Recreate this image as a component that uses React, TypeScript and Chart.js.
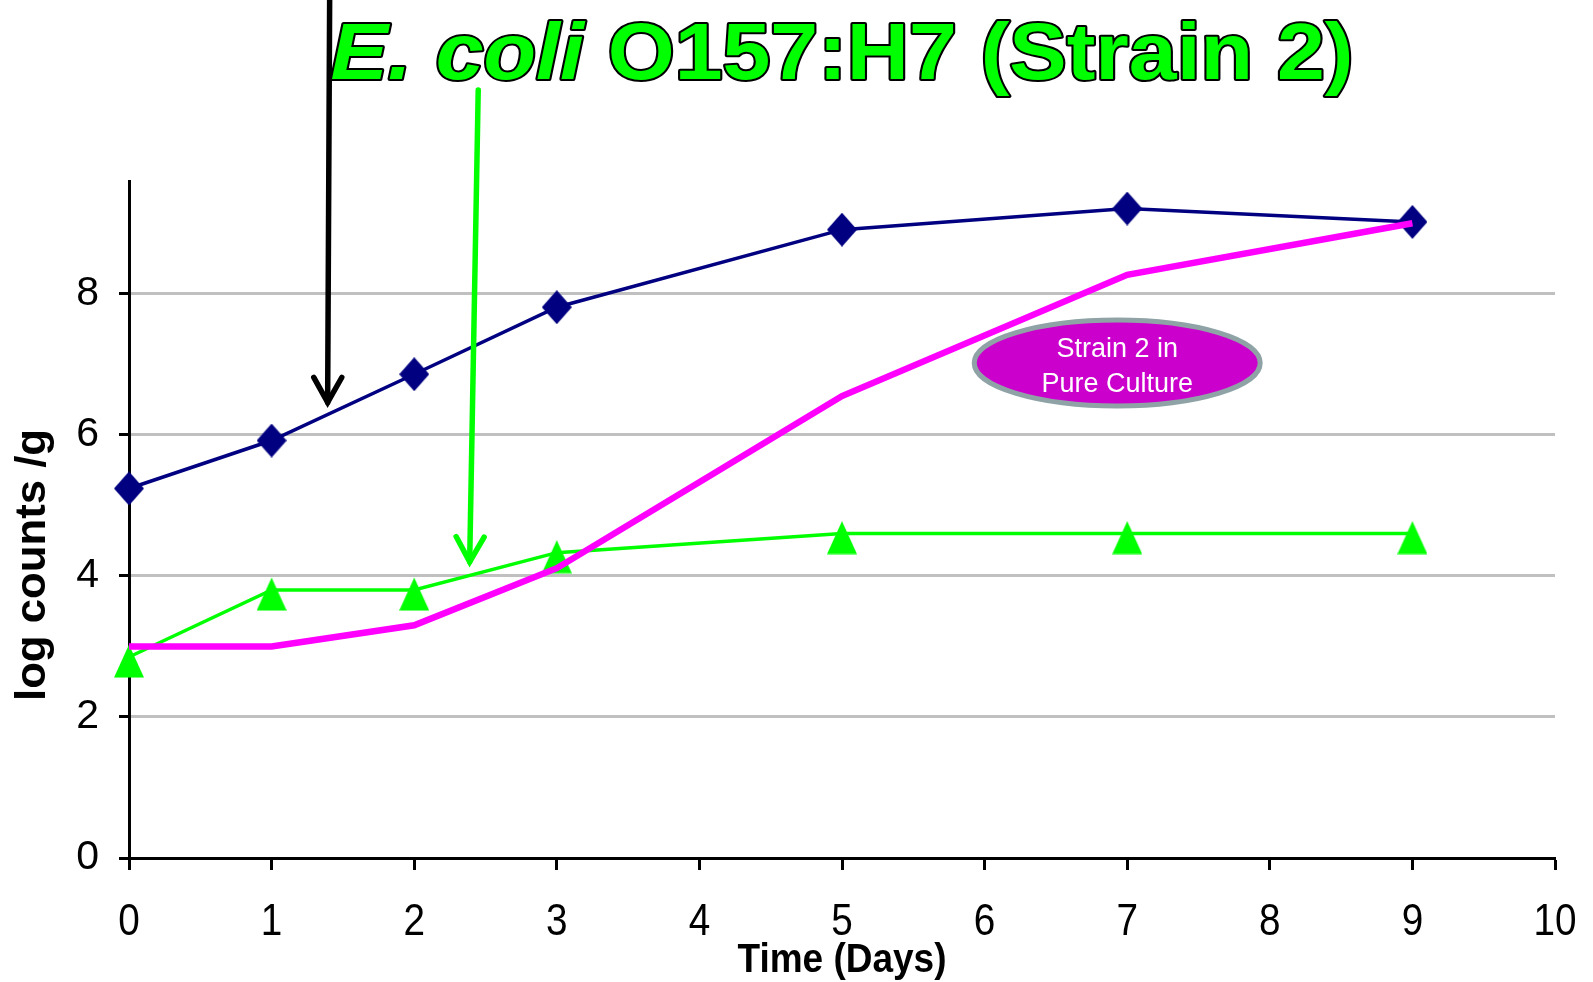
import React, { useEffect, useRef } from "react";
import { Chart, registerables } from "chart.js";

Chart.register(...registerables);

// Sampling days and log counts per series
const days = [0, 1, 2, 3, 5, 7, 9];
const diamondCounts = [5.24, 5.92, 6.86, 7.81, 8.91, 9.21, 9.02];
const triangleCounts = [2.85, 3.8, 3.8, 4.33, 4.6, 4.6, 4.6];
const pureCultureCounts = [3.0, 3.0, 3.3, 4.11, 6.55, 8.27, 9.0];

// Axis ticks
const xTickValues = [0, 1, 2, 3, 4, 5, 6, 7, 8, 9, 10];
const yTickValues = [0, 2, 4, 6, 8];
const xMin = 0;
const xMax = 10;
const yMin = 0;
const yMax = 9.6;

// Texts
const titleItalic = "E. coli";
const titleRest = " O157:H7 (Strain 2)";
const xTitle = "Time (Days)";
const yTitle = "log counts /g";
const calloutLines = ["Strain 2 in", "Pure Culture"];

// Annotation anchors in data units: [x, y]
const calloutCenter = [6.93, 7.02];
const blackArrow = [
  [1.407, 12.16],
  [1.393, 6.46],
];
const greenArrow = [
  [2.449, 10.89],
  [2.389, 4.2],
];

const FONT = '"Liberation Sans", Arial, sans-serif';
const NAVY = "#000080";
const GREEN = "#00ff00";
const MAGENTA = "#ff00ff";

function makeDiamond(): HTMLCanvasElement {
  const c = document.createElement("canvas");
  c.width = 30;
  c.height = 34;
  const g = c.getContext("2d")!;
  g.fillStyle = NAVY;
  g.beginPath();
  g.moveTo(15, 0);
  g.lineTo(30, 17);
  g.lineTo(15, 34);
  g.lineTo(0, 17);
  g.closePath();
  g.fill();
  return c;
}

function makeTriangle(): HTMLCanvasElement {
  const c = document.createElement("canvas");
  c.width = 30;
  c.height = 42;
  const g = c.getContext("2d")!;
  g.fillStyle = GREEN;
  g.beginPath();
  g.moveTo(15, 8.5);
  g.lineTo(30, 41.5);
  g.lineTo(0, 41.5);
  g.closePath();
  g.fill();
  return c;
}

function drawArrow(
  ctx: CanvasRenderingContext2D,
  x0: number,
  y0: number,
  x1: number,
  y1: number,
  color: string
) {
  const dx = x1 - x0;
  const dy = y1 - y0;
  const len = Math.hypot(dx, dy);
  const ux = dx / len;
  const uy = dy / len;
  const nx = -uy;
  const ny = ux;
  const back = 25;
  const half = 14;
  ctx.save();
  ctx.strokeStyle = color;
  ctx.lineWidth = 5.5;
  ctx.lineCap = "round";
  ctx.lineJoin = "miter";
  ctx.beginPath();
  ctx.moveTo(x0, y0);
  ctx.lineTo(x1, y1);
  ctx.stroke();
  ctx.beginPath();
  ctx.moveTo(x1 - ux * back + nx * half, y1 - uy * back + ny * half);
  ctx.lineTo(x1, y1);
  ctx.lineTo(x1 - ux * back - nx * half, y1 - uy * back - ny * half);
  ctx.stroke();
  ctx.restore();
}

const decorations = {
  id: "decorations",
  afterDatasetsDraw(chart: any) {
    const { ctx, scales } = chart;
    const xs = scales.x;
    const ys = scales.y;
    const px = (v: number) => xs.getPixelForValue(v);
    const py = (v: number) => ys.getPixelForValue(v);

    drawArrow(
      ctx,
      px(blackArrow[0][0]),
      py(blackArrow[0][1]),
      px(blackArrow[1][0]),
      py(blackArrow[1][1]),
      "#000000"
    );
    drawArrow(
      ctx,
      px(greenArrow[0][0]),
      py(greenArrow[0][1]),
      px(greenArrow[1][0]),
      py(greenArrow[1][1]),
      GREEN
    );

    // callout bubble
    const cx = px(calloutCenter[0]);
    const cy = py(calloutCenter[1]);
    ctx.save();
    ctx.beginPath();
    ctx.ellipse(cx, cy, 143, 43, 0, 0, Math.PI * 2);
    ctx.fillStyle = "#cc00cc";
    ctx.fill();
    ctx.lineWidth = 5;
    ctx.strokeStyle = "#8fa3a6";
    ctx.stroke();
    ctx.fillStyle = "#ffffff";
    ctx.font = `27px ${FONT}`;
    ctx.textAlign = "center";
    ctx.textBaseline = "alphabetic";
    ctx.fillText(calloutLines[0], cx, cy - 6);
    ctx.fillText(calloutLines[1], cx, cy + 29);
    ctx.restore();
  },
  afterDraw(chart: any) {
    const { ctx, chartArea, scales } = chart;
    const midX = (chartArea.left + chartArea.right) / 2;

    // x tick labels in a tall, narrow face
    ctx.save();
    ctx.font = `45px ${FONT}`;
    ctx.fillStyle = "#000000";
    ctx.textAlign = "center";
    ctx.textBaseline = "alphabetic";
    for (const v of xTickValues) {
      const x = scales.x.getPixelForValue(v);
      ctx.save();
      ctx.translate(x, 935);
      ctx.scale(0.86, 1);
      ctx.fillText(String(v), 0, 0);
      ctx.restore();
    }
    ctx.restore();

    // main title: italic species name + bold strain, green with black outline
    ctx.save();
    const italicFont = `italic bold 80px ${FONT}`;
    const boldFont = `bold 80px ${FONT}`;
    ctx.font = italicFont;
    const w1 = ctx.measureText(titleItalic).width;
    ctx.font = boldFont;
    const w2 = ctx.measureText(titleRest).width;
    const targetW = 1023;
    const sx = targetW / (w1 + w2);
    ctx.translate(midX - targetW / 2, 79);
    ctx.scale(sx, 1);
    ctx.textBaseline = "alphabetic";
    ctx.textAlign = "left";
    ctx.lineJoin = "round";
    ctx.lineWidth = 4;
    ctx.strokeStyle = "#000000";
    ctx.fillStyle = GREEN;
    ctx.font = italicFont;
    ctx.strokeText(titleItalic, 0, 0);
    ctx.fillText(titleItalic, 0, 0);
    ctx.font = boldFont;
    ctx.strokeText(titleRest, w1, 0);
    ctx.fillText(titleRest, w1, 0);
    ctx.restore();

    // x axis title
    ctx.save();
    ctx.font = `bold 40px ${FONT}`;
    const wx = ctx.measureText(xTitle).width;
    ctx.translate(842, 972);
    ctx.scale(209 / wx, 1);
    ctx.fillStyle = "#000000";
    ctx.textAlign = "center";
    ctx.textBaseline = "alphabetic";
    ctx.fillText(xTitle, 0, 0);
    ctx.restore();

    // y axis title
    ctx.save();
    ctx.font = `bold 42px ${FONT}`;
    const wy = ctx.measureText(yTitle).width;
    ctx.translate(45, 565);
    ctx.rotate(-Math.PI / 2);
    ctx.scale(272 / wy, 1);
    ctx.fillStyle = "#000000";
    ctx.textAlign = "center";
    ctx.textBaseline = "alphabetic";
    ctx.fillText(yTitle, 0, 0);
    ctx.restore();
  },
};

export default function App() {
  const canvasRef = useRef<HTMLCanvasElement | null>(null);

  useEffect(() => {
    const canvas = canvasRef.current;
    if (!canvas) return;
    const diamond = makeDiamond();
    const triangle = makeTriangle();
    const toPoints = (vals: number[]) => days.map((d, i) => ({ x: d, y: vals[i] }));

    const chart = new Chart(canvas, {
      type: "line",
      data: {
        datasets: [
          {
            label: "Pure culture",
            data: toPoints(pureCultureCounts),
            borderColor: MAGENTA,
            borderWidth: 6.5,
            pointRadius: 0,
            tension: 0,
            order: 0,
            clip: false as any,
          },
          {
            label: "Triangles",
            data: toPoints(triangleCounts),
            borderColor: GREEN,
            borderWidth: 3.5,
            pointStyle: triangle as any,
            pointRadius: 15,
            tension: 0,
            order: 1,
            clip: false as any,
          },
          {
            label: "Diamonds",
            data: toPoints(diamondCounts),
            borderColor: NAVY,
            borderWidth: 3.5,
            pointStyle: diamond as any,
            pointRadius: 15,
            tension: 0,
            order: 2,
            clip: false as any,
          },
        ],
      },
      options: {
        animation: false,
        responsive: false,
        layout: { padding: { top: 181, right: 38, left: 0, bottom: 0 } },
        plugins: {
          legend: { display: false },
          tooltip: { enabled: false },
          title: { display: false },
        },
        scales: {
          x: {
            type: "linear",
            min: xMin,
            max: xMax,
            afterBuildTicks: (scale: any) => {
              scale.ticks = xTickValues.map((v) => ({ value: v }));
            },
            afterFit: (scale: any) => {
              scale.height = 124;
            },
            grid: {
              drawOnChartArea: false,
              drawTicks: true,
              tickLength: 12,
              tickColor: "#000000",
              tickWidth: 3,
            } as any,
            border: { color: "#000000", width: 3 },
            ticks: {
              display: false,
              autoSkip: false,
              maxRotation: 0,
              minRotation: 0,
            },
          },
          y: {
            type: "linear",
            min: yMin,
            max: yMax,
            afterBuildTicks: (scale: any) => {
              scale.ticks = yTickValues.map((v) => ({ value: v }));
            },
            afterFit: (scale: any) => {
              scale.width = 129;
            },
            grid: {
              color: (c: any) => (c.tick && c.tick.value === 0 ? "rgba(0,0,0,0)" : "#c0c0c0"),
              lineWidth: 3,
              drawTicks: true,
              tickLength: 10,
              tickColor: "#000000",
              tickWidth: 3,
            } as any,
            border: { color: "#000000", width: 3 },
            ticks: {
              padding: 20,
              color: "#000000",
              font: { family: FONT, size: 41, lineHeight: 1 },
            },
          },
        },
      },
      plugins: [decorations],
    });

    return () => {
      chart.destroy();
    };
  }, []);

  return (
    <div style={{ position: "absolute", left: 0, top: 0, width: 1593, height: 982, background: "#ffffff" }}>
      <canvas ref={canvasRef} width={1593} height={982} style={{ display: "block" }} />
    </div>
  );
}
